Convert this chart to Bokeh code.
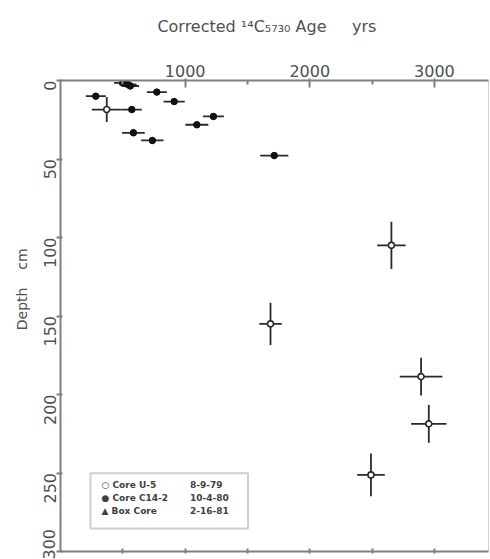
import math
from bokeh.plotting import figure
from bokeh.models import (ColumnDataSource, Range1d, LinearAxis, FixedTicker,
                          Label, BoxAnnotation)
from bokeh.embed import file_html
from bokeh.resources import INLINE

# ---- data ----
# Core C14-2 (filled markers)
c14_age = [283, 500, 540, 560, 572, 773, 912, 1227, 1094, 585, 737, 1715]
c14_depth = [10, 1.5, 2.5, 3.5, 18.5, 7.4, 13.4, 22.9, 28.2, 33.3, 38.2, 47.8]
c14_age_err = [80, 70, 70, 70, 80, 80, 85, 84, 92, 91, 90, 113]
c14_depth_err = [2, 2, 2, 2, 2, 2, 2, 2, 2, 2, 2, 2]

# Core U-5 (open markers)
u5_age = [371, 2655, 1685, 2893, 2955, 2491]
u5_depth = [18.5, 105, 155, 188.6, 218.7, 251.2]
u5_age_err = [120, 114, 90, 171, 142, 111]
u5_depth_err = [8, 15, 13.5, 12, 12, 13.6]

x_major = [1000, 2000, 3000]
x_minor = [500, 1500, 2500, 3500]
y_ticks = [0, 50, 100, 150, 200, 250, 300]
bottom_ticks = [500, 1000, 1500, 2000, 2500, 3000]

NB = "\u00a0"
x_title = "Corrected \u00b9\u2074C\u2085\u2087\u2083\u2080 Age" + NB * 5 + "yrs" + NB * 3
y_title = NB * 12 + "Depth" + NB * 4 + "cm"

legend_names = ["\u25CB Core U-5", "\u25CF Core C14-2", "\u25B2 Box Core"]
legend_dates = ["8-9-79", "10-4-80", "2-16-81"]

# ---- layout ----
W, H = 490, 559
BL, BR, BT, BB = 60, 2, 80, 8
FW, FH = W - BL - BR, H - BT - BB
XMAX, YMAX = 3434, 300

def dx(px):
    return px / FW * XMAX

def dy(py):
    return py / FH * YMAX

FONT = "DejaVu Sans"
TXT = "#505050"
AX = "#808080"
MK = "#2a2a2a"

p = figure(width=W, height=H, x_range=Range1d(0, XMAX), y_range=Range1d(YMAX, 0),
           x_axis_location="above", output_backend="svg", toolbar_location=None,
           min_border_left=BL, min_border_right=BR, min_border_top=BT,
           min_border_bottom=BB)
p.xgrid.visible = False
p.ygrid.visible = False
p.outline_line_color = "#d0d0d0"
p.outline_line_width = 1
p.background_fill_color = "white"

# top axis
xa = p.xaxis[0]
xa.ticker = FixedTicker(ticks=x_major, minor_ticks=x_minor)
xa.axis_line_color = AX
xa.axis_line_width = 2
xa.major_tick_line_color = AX
xa.major_tick_line_width = 2
xa.major_tick_in = 7
xa.major_tick_out = 2
xa.minor_tick_line_color = AX
xa.minor_tick_line_width = 2
xa.minor_tick_in = 4
xa.minor_tick_out = 0
xa.major_label_standoff = 2
xa.major_label_text_font = FONT
xa.major_label_text_font_size = "16px"
xa.major_label_text_color = TXT
xa.axis_label = x_title
xa.axis_label_text_font = FONT
xa.axis_label_text_font_size = "16px"
xa.axis_label_text_font_style = "normal"
xa.axis_label_text_color = TXT
xa.axis_label_standoff = 26

# left axis
ya = p.yaxis[0]
ya.ticker = FixedTicker(ticks=y_ticks, minor_ticks=[])
ya.axis_line_color = AX
ya.axis_line_width = 2
ya.major_tick_line_color = AX
ya.major_tick_line_width = 2
ya.major_tick_in = 2
ya.major_tick_out = 4
ya.major_label_orientation = math.pi / 2
ya.major_label_standoff = 7
ya.major_label_text_font = FONT
ya.major_label_text_font_size = "16px"
ya.major_label_text_color = TXT
ya.axis_label = y_title
ya.axis_label_text_font = FONT
ya.axis_label_text_font_size = "14px"
ya.axis_label_text_font_style = "normal"
ya.axis_label_text_color = TXT
ya.axis_label_standoff = 5

# bottom axis (ticks only)
ba = LinearAxis(ticker=FixedTicker(ticks=bottom_ticks, minor_ticks=[]))
ba.axis_line_color = AX
ba.axis_line_width = 2
ba.major_tick_line_color = AX
ba.major_tick_line_width = 2
ba.major_tick_in = 3
ba.major_tick_out = 2
ba.major_label_overrides = {t: "" for t in bottom_ticks}
ba.major_label_standoff = 0
p.add_layout(ba, "below")

# ---- data glyphs ----
c14 = ColumnDataSource(dict(
    x=c14_age, y=c14_depth,
    x0=[a - e for a, e in zip(c14_age, c14_age_err)],
    x1=[a + e for a, e in zip(c14_age, c14_age_err)],
    y0=[d - e for d, e in zip(c14_depth, c14_depth_err)],
    y1=[d + e for d, e in zip(c14_depth, c14_depth_err)],
))
u5 = ColumnDataSource(dict(
    x=u5_age, y=u5_depth,
    x0=[a - e for a, e in zip(u5_age, u5_age_err)],
    x1=[a + e for a, e in zip(u5_age, u5_age_err)],
    y0=[d - e for d, e in zip(u5_depth, u5_depth_err)],
    y1=[d + e for d, e in zip(u5_depth, u5_depth_err)],
))

for src in (c14, u5):
    p.segment(x0="x0", x1="x1", y0="y", y1="y", source=src,
              line_color=MK, line_width=1.8)
    p.segment(x0="x", x1="x", y0="y0", y1="y1", source=src,
              line_color=MK, line_width=1.8)

p.scatter("x", "y", source=c14, size=6.5, marker="circle",
          fill_color="#111111", line_color="#111111")
p.scatter("x", "y", source=u5, size=6, marker="circle",
          fill_color="white", line_color=MK, line_width=1.6)

# ---- legend box ----
p.add_layout(BoxAnnotation(left=dx(30), right=dx(187.5), top=dy(392.7),
                           bottom=dy(448), fill_alpha=0, line_color="#606060",
                           line_width=2))
rows = [404, 417, 430]
for name, date, r in zip(legend_names, legend_dates, rows):
    p.add_layout(Label(x=dx(41), y=dy(r), text=name, text_font=FONT,
                       text_font_size="9px", text_color="#404040",
                       text_baseline="middle", text_font_style="bold"))
    p.add_layout(Label(x=dx(129.5), y=dy(r), text=date, text_font=FONT,
                       text_font_size="9px", text_color="#404040",
                       text_baseline="middle", text_font_style="bold"))

open("out.html", "w").write(file_html(p, INLINE))
